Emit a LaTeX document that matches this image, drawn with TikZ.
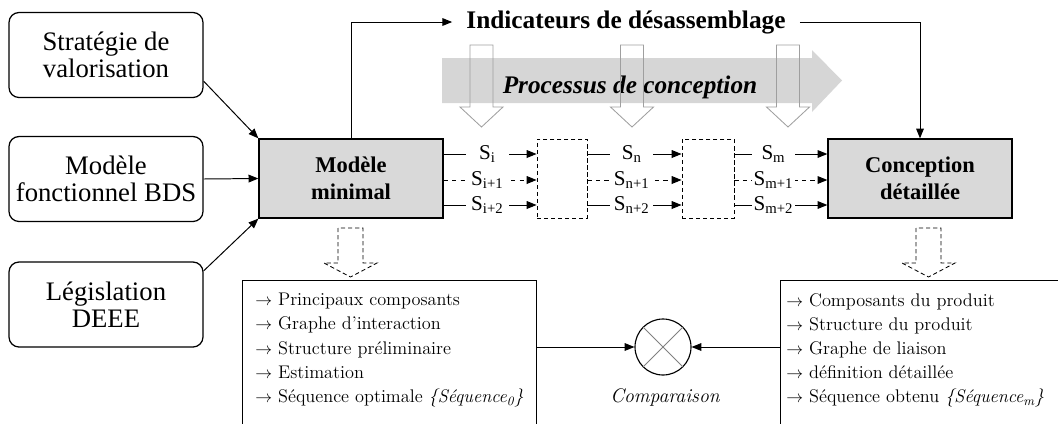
\documentclass[tikz,border=0pt]{standalone}
\usepackage{fontspec}
\usepackage{tikz}
\usetikzlibrary{arrows.meta}
\newfontfamily\tnr{Liberation Serif}
\definecolor{boxgray}{HTML}{D9D9D9}
\definecolor{flowgray}{HTML}{D6D6D6}
\tikzset{
	srcbox/.style={draw, rounded corners=2.5mm, line width=0.9pt,
		minimum width=48.5mm, minimum height=21.25mm, align=center,
		font=\tnr\fontsize{19}{19.2}\selectfont},
	mainbox/.style={draw, fill=boxgray, line width=0.9pt,
		minimum width=46mm, minimum height=19.75mm, align=center,
		font=\tnr\bfseries\fontsize{16}{19.2}\selectfont},
	stepbox/.style={draw, dash pattern=on 3pt off 2pt, line width=0.6pt,
		minimum height=19.75mm},
	sig/.style={-{Triangle[length=7pt,width=5.5pt]}, line width=0.7pt},
	lbl/.style={fill=white, inner sep=1pt, minimum width=10.75mm,
		font=\tnr\fontsize{15}{15}\selectfont},
	listbox/.style={draw, line width=0.7pt, minimum height=40mm},
	listtext/.style={align=left, inner sep=0pt, anchor=north west,
		font=\fontsize{13}{17.2}\selectfont},
	hollow/.style={draw=gray!75, line width=0.6pt},
	dhollow/.style={draw, dash pattern=on 3pt off 2pt, line width=0.6pt},
}

\begin{document}
\begin{tikzpicture}[x=0.25mm, y=-0.25mm]
	\useasboundingbox (0,0) rectangle (1058,423);
	\clip (0,0) rectangle (1058,423);

	% entrees
	\node[srcbox] (strat) at (106,55) {Stratégie de\\valorisation};
	\node[srcbox] (fonc) at (106,179) {Modèle\\fonctionnel BDS};
	\node[srcbox] (leg) at (106,304.5) {Législation\\DEEE};

	% modeles
	\node[mainbox] (minimal) at (351,178.5) {Modèle\\minimal};
	\node[mainbox] (detail) at (920,178.5) {Conception\\détaillée};
	\node[stepbox, minimum width=12.5mm] (s1) at (562,178.5) {};
	\node[stepbox, minimum width=13mm] (s2) at (708,178.5) {};

	\draw[sig] (strat.-15) -- (minimal.north west);
	\draw[sig] (fonc.east) -- (minimal.west);
	\draw[sig] (leg.19) -- (minimal.south west);

	% indicateurs
	\node[anchor=base, inner xsep=3.5mm, font=\tnr\bfseries\fontsize{18}{18}\selectfont]
		(title) at (626,28) {Indicateurs de désassemblage};
	\draw[sig] (minimal.north) |- (title.west);
	\draw[sig] (title.east) -| (detail.north);

	% processus
	\fill[flowgray] (442,58) -- (812,58) -- (812,50) -- (842,80.5) -- (812,112)
		-- (812,103) -- (442,103) -- cycle;
	\node[font=\tnr\bfseries\itshape\fontsize{18}{18}\selectfont] (proc) at (630,87)
		{Processus de conception};
	\foreach \hx in {481.5,632,788}
		\draw[hollow] (\hx-11.5,45) -- (\hx-11.5,107) -- (\hx-21.5,107) -- (\hx,127)
			-- (\hx+21.5,107) -- (\hx+11.5,107) -- (\hx+11.5,45) -- cycle;

	% sequences
	\coordinate (r1) at (0,154);
	\coordinate (r2) at (0,180);
	\coordinate (r3) at (0,205);
	\foreach \k/\st/\sa/\sb/\sc in {1/solid/i/n/m, 2/dashed/i+1/n+1/m+1, 3/solid/i+2/n+2/m+2} {
		\draw[sig, \st] (minimal.east |- r\k) -- node[lbl, pos=0.47] {S\textsubscript{\sa}} (s1.west |- r\k);
		\draw[sig, \st] (s1.east |- r\k) -- node[lbl, pos=0.47] {S\textsubscript{\sb}} (s2.west |- r\k);
		\draw[sig, \st] (s2.east |- r\k) -- node[lbl, pos=0.42] {S\textsubscript{\sc}} (detail.west |- r\k);
	}

	% resultats
	\foreach \hx in {350.5,928.5}
		\draw[dhollow] (\hx-12.5,228) -- (\hx-12.5,263) -- (\hx-26.5,263) -- (\hx,277)
			-- (\hx+26.5,263) -- (\hx+12.5,263) -- (\hx+12.5,228) -- cycle;

	\node[listbox, minimum width=73.5mm] (lres) at (389,360) {};
	\node[listbox, minimum width=73.75mm] (rres) at (927.5,360) {};
	\node[listtext] (ltxt) at (255,293) {%
		$\rightarrow$ Principaux composants\\
		$\rightarrow$ Graphe d’interaction\\
		$\rightarrow$ Structure préliminaire\\
		$\rightarrow$ Estimation\\
		$\rightarrow$ Séquence optimale \textit{\{Séquence\textsubscript{0}\}}};
	\node[listtext] (rtxt) at (786,293) {%
		$\rightarrow$ Composants du produit\\
		$\rightarrow$ Structure du produit\\
		$\rightarrow$ Graphe de liaison\\
		$\rightarrow$ définition détaillée\\
		$\rightarrow$ Séquence obtenu \textit{\{Séquence\textsubscript{m}\}}};

	% comparaison
	\node[draw, circle, minimum size=14mm, line width=0.8pt] (cmp) at (663,347) {};
	\draw[gray, line width=0.6pt] (cmp.45) -- (cmp.225) (cmp.135) -- (cmp.-45);
	\node[font=\itshape\fontsize{14}{14}\selectfont] (cmplbl) at (665,397) {Comparaison};
	\draw[sig] (lres.east |- cmp) -- (cmp.west);
	\draw[sig] (rres.west |- cmp) -- (cmp.east);
\end{tikzpicture}
\end{document}
